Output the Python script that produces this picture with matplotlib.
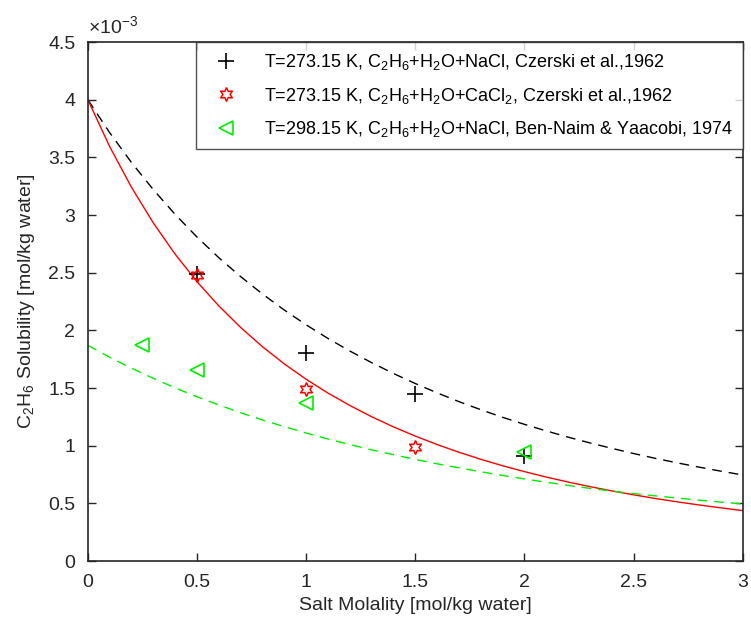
import matplotlib.pyplot as plt
import numpy as np

plt.rcParams['font.family'] = ['Liberation Sans', 'DejaVu Sans']
plt.rcParams['mathtext.fontset'] = 'custom'
plt.rcParams['mathtext.rm'] = 'Liberation Sans'

# experimental data (solubility in 1e-3 mol/kg water)
nacl_273_x = [0.5, 1.0, 1.5, 2.0]
nacl_273_y = [2.49, 1.80, 1.45, 0.91]
cacl2_273_x = [0.5, 1.0, 1.5]
cacl2_273_y = [2.48, 1.49, 0.99]
nacl_298_x = [0.25, 0.5, 1.0, 2.0]
nacl_298_y = [1.87, 1.66, 1.37, 0.945]

# model curves
curve_x = [0.0, 0.1, 0.2, 0.3, 0.4, 0.5, 0.6, 0.7, 0.8, 0.9, 1.0,
           1.1, 1.2, 1.3, 1.4, 1.5, 1.6, 1.7, 1.8, 1.9, 2.0,
           2.1, 2.2, 2.3, 2.4, 2.5, 2.6, 2.7, 2.8, 2.9, 3.0]
curve_nacl_273 = [4.000, 3.714, 3.455, 3.220, 3.005, 2.809, 2.630, 2.466, 2.315, 2.176, 2.048,
                  1.930, 1.821, 1.720, 1.626, 1.539, 1.458, 1.382, 1.312, 1.246, 1.185,
                  1.128, 1.074, 1.024, 0.977, 0.932, 0.890, 0.851, 0.814, 0.779, 0.746]
curve_cacl2_273 = [4.000, 3.593, 3.240, 2.931, 2.660, 2.422, 2.212, 2.025, 1.858, 1.709, 1.576,
                   1.456, 1.349, 1.251, 1.163, 1.083, 1.010, 0.943, 0.882, 0.826, 0.775,
                   0.728, 0.685, 0.645, 0.608, 0.574, 0.542, 0.513, 0.486, 0.461, 0.437]
curve_nacl_298 = [1.870, 1.767, 1.672, 1.584, 1.501, 1.424, 1.353, 1.286, 1.223, 1.165, 1.110,
                  1.058, 1.010, 0.964, 0.922, 0.881, 0.843, 0.808, 0.774, 0.742, 0.712,
                  0.683, 0.656, 0.630, 0.606, 0.585, 0.565, 0.546, 0.528, 0.511, 0.495]

labels = [r'T=273.15 K, C$_2$H$_6$+H$_2$O+NaCl, Czerski et al.,1962',
          r'T=273.15 K, C$_2$H$_6$+H$_2$O+CaCl$_2$, Czerski et al.,1962',
          r'T=298.15 K, C$_2$H$_6$+H$_2$O+NaCl, Ben-Naim & Yaacobi, 1974']

fig = plt.figure(figsize=(7.51, 6.23), dpi=100)
ax = fig.add_axes([0.117, 0.0995, 0.872, 0.833])

scale = 1e-3
ax.plot(curve_x, np.array(curve_nacl_273) * scale, color='black', ls=(0, (7, 5)), lw=1)
ax.plot(curve_x, np.array(curve_cacl2_273) * scale, color='red', lw=1)
ax.plot(curve_x, np.array(curve_nacl_298) * scale, color='#00ee00', ls=(0, (7, 5)), lw=1)

ax.plot(nacl_273_x, np.array(nacl_273_y) * scale, ls='none', marker='+', ms=11,
        mew=1.2, color='black', label=labels[0])
ax.plot(cacl2_273_x, np.array(cacl2_273_y) * scale, ls='none', marker=(6, 1, 0), ms=10,
        mew=1.1, mfc='none', mec='red', label=labels[1])
ax.plot(nacl_298_x, np.array(nacl_298_y) * scale, ls='none', marker='<', ms=10,
        mew=1.2, mfc='none', mec='#00ee00', label=labels[2])

ax.set_xlim(0, 3)
ax.set_ylim(0, 4.5e-3)
ax.set_xticks(np.arange(0, 3.01, 0.5))
ax.set_xticklabels(['0', '0.5', '1', '1.5', '2', '2.5', '3'])
ax.set_yticks(np.arange(0, 4.51e-3, 0.5e-3))
ax.set_yticklabels(['0', '0.5', '1', '1.5', '2', '2.5', '3', '3.5', '4', '4.5'])
ax.tick_params(direction='in', top=True, right=True, labelsize=14, length=6,
               width=1, colors='#262626', labelcolor='#262626')
ax.tick_params(axis='x', pad=9)
ax.tick_params(axis='y', pad=9)
for s in ax.spines.values():
    s.set_linewidth(1.2)
    s.set_color('#262626')

ax.text(0, 1.008, r'$\times$10$^{-3}$', transform=ax.transAxes, fontsize=14,
        color='#262626', va='bottom', ha='left')

ax.set_xlabel('Salt Molality [mol/kg water]', fontsize=14, color='#262626', labelpad=5)
ax.set_ylabel(r'C$_2$H$_6$ Solubility [mol/kg water]', fontsize=14, color='#262626', labelpad=8)

leg = ax.legend(loc='upper right', fontsize=13, frameon=True, fancybox=False,
                edgecolor='#262626', borderaxespad=0, handletextpad=1.0,
                handlelength=2.2, labelspacing=0.75, borderpad=0.55)
leg.get_frame().set_linewidth(1)

plt.savefig('out.png', dpi=100)
